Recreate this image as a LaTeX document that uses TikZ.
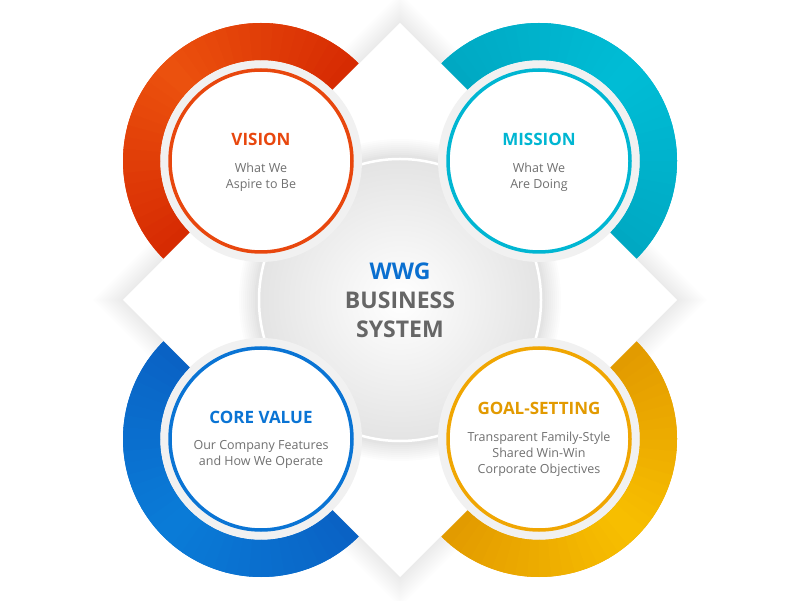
\documentclass[tikz,border=0pt]{standalone}
\usepackage{fontspec}
\setmainfont{Open Sans}
\usetikzlibrary{positioning,calc}

\definecolor{visA}{HTML}{D62A02}
\definecolor{visB}{HTML}{EC520E}
\definecolor{visL}{HTML}{E8470E}
\definecolor{misA}{HTML}{00A8C2}
\definecolor{misB}{HTML}{00BDD6}
\definecolor{misL}{HTML}{00B6D2}
\definecolor{corA}{HTML}{0A62C4}
\definecolor{corB}{HTML}{0A7CD8}
\definecolor{corL}{HTML}{0A74D4}
\definecolor{golA}{HTML}{E29A00}
\definecolor{golB}{HTML}{F8BF00}
\definecolor{golL}{HTML}{F0A602}
\definecolor{wwgblue}{HTML}{0A6FD0}
\definecolor{txtdark}{HTML}{666666}
\definecolor{txtgray}{HTML}{707070}

\begin{document}
\begin{tikzpicture}[x=1pt,y=1pt,
  hub/.style={circle,minimum size=182pt,inner sep=0pt,fill=white,line width=3.5pt},
  ttl/.style={inner sep=0pt,font=\fontsize{17}{20}\selectfont\bfseries},
  sub/.style={inner sep=0pt,align=center,text=txtgray,font=\fontsize{12.5}{16}\selectfont},
]
  \useasboundingbox (0,0) rectangle (800,600);
  \fill[white] (0,0) rectangle (800,600);
  \coordinate (c) at (400,300);

  % diamond and its soft shadow
  \foreach \s in {1,...,10}
    \fill[black,opacity=0.007,shift={(c)}] (90:277+3*\s) -- (0:277+3*\s) -- (-90:277+3*\s) -- (180:277+3*\s) -- cycle;
  \fill[white,shift={(c)}] (90:277) -- (0:277) -- (-90:277) -- (180:277) -- cycle;

  % centre disc
  \foreach \s in {1,...,8}
    \fill[black,opacity=0.01] (c) circle (145+2*\s);
  \shade[inner color=white,outer color=gray!22] (c) circle (145);
  \draw[white,line width=2.5pt] (c) circle (141);
  \node[align=center,inner sep=0pt,text=txtdark,font=\fontsize{23}{29}\selectfont\bfseries] (hubtxt) at (c)
    {{\color{wwgblue}WWG}\\BUSINESS\\SYSTEM};

  % four rings
  \foreach \nm/\px/\py/\st/\ca/\cb/\cl in {vision/261/439/45/visA/visB/visL,
      mission/539/439/-45/misA/misB/misL, core/261/161/135/corA/corB/corL,
      goal/539/161/225/golA/golB/golL} {
    \fill[gray!11] (\px,\py) circle (101);
    \fill[\cl,shift={(\px,\py)}] (\st:101) arc[start angle=\st,delta angle=180,radius=101]
      -- (\st+180:138) arc[start angle=\st+180,delta angle=-180,radius=138] -- cycle;
    \foreach \k in {0,...,35} {
      \pgfmathsetmacro\aa{\st+5*\k}
      \pgfmathsetmacro\bb{min(\aa+5.4,\st+180)}
      \pgfmathtruncatemacro\mixp{100-abs(\k-17.5)*100/18}
      \fill[\cb!\mixp!\ca,shift={(\px,\py)}] (\aa:101) arc[start angle=\aa,end angle=\bb,radius=101]
        -- (\bb:138) arc[start angle=\bb,end angle=\aa,radius=138] -- cycle;
    }
    \node[hub,draw=\cl] (\nm) at (\px,\py) {};
  }

  \node[ttl,text=visL] (visionttl) at ($(vision)+(0,22)$) {VISION};
  \node[sub,below=17pt of visionttl] (visionsub) {What We\\Aspire to Be};

  \node[ttl,text=misL] (missionttl) at ($(mission)+(0,22)$) {MISSION};
  \node[sub,below=17pt of missionttl] (missionsub) {What We\\Are Doing};

  \node[ttl,text=corL] (corettl) at ($(core)+(0,22)$) {CORE VALUE};
  \node[sub,below=17pt of corettl] (coresub) {Our Company Features\\and How We Operate};

  \node[ttl,text=golA] (goalttl) at ($(goal)+(0,31)$) {GOAL-SETTING};
  \node[sub,below=17pt of goalttl] (goalsub) {Transparent Family-Style\\Shared Win-Win\\Corporate Objectives};
\end{tikzpicture}
\end{document}
